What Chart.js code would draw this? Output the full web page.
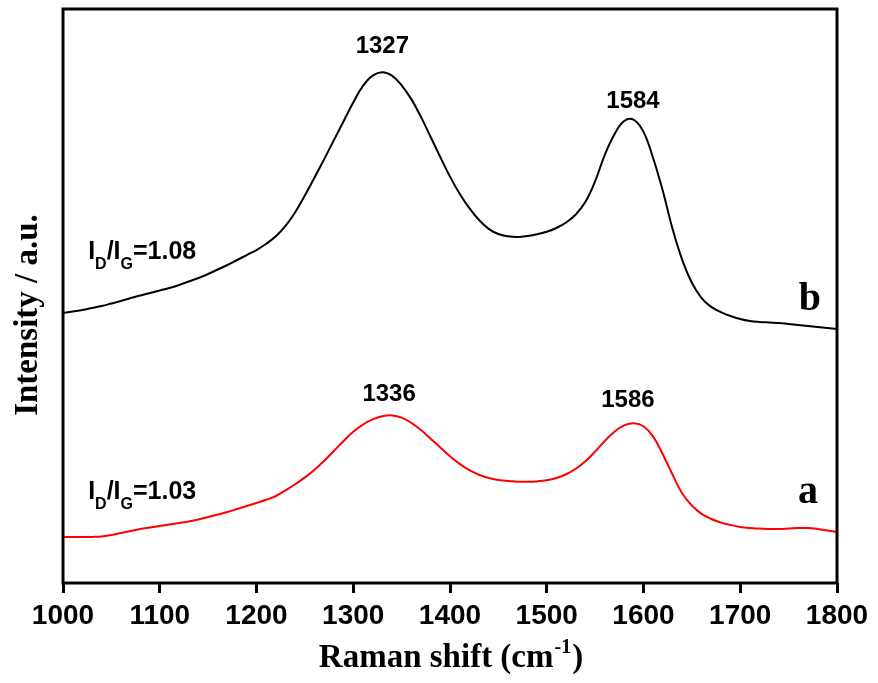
<!DOCTYPE html>
<html>
<head>
<meta charset="utf-8">
<script src="https://cdn.jsdelivr.net/npm/chart.js@4.4.1/dist/chart.umd.min.js"></script>
<style>
  body { margin: 0; background: #fff; }
  #wrap { width: 878px; height: 683px; }
</style>
</head>
<body>
<div id="wrap"><canvas id="ramanChart"></canvas></div>
<script>
// ************* data *************

// Raman shift, cm-1 (both spectra sampled at the same shifts)
var shifts = [1000, 1010, 1020, 1030, 1040, 1050, 1060, 1070, 1080, 1090,
  1100, 1110, 1120, 1130, 1140, 1150, 1160, 1170, 1180, 1190,
  1200, 1210, 1220, 1230, 1240, 1250, 1260, 1270, 1280, 1290,
  1300, 1310, 1320, 1330, 1340, 1350, 1360, 1370, 1380, 1390,
  1400, 1410, 1420, 1430, 1440, 1450, 1460, 1470, 1480, 1490,
  1500, 1510, 1520, 1530, 1540, 1550, 1560, 1570, 1580, 1590,
  1600, 1610, 1620, 1630, 1640, 1650, 1660, 1670, 1680, 1690,
  1700, 1710, 1720, 1730, 1740, 1750, 1760, 1770, 1780, 1790, 1800];

// sample b (black, upper), a.u.
var intensityB = [47.04, 47.30, 47.56, 47.91, 48.26, 48.69, 49.13, 49.65, 50.09, 50.52,
  50.96, 51.39, 51.92, 52.53, 53.14, 53.83, 54.62, 55.40, 56.27, 57.14,
  58.01, 59.10, 60.40, 62.20, 64.60, 67.50, 70.65, 73.85, 77.15, 80.45,
  83.70, 86.60, 88.40, 89.00, 88.40, 86.70, 84.30, 81.20, 77.70, 74.20,
  70.80, 67.80, 65.30, 63.25, 61.70, 60.80, 60.40, 60.28, 60.45, 60.75,
  61.20, 61.85, 62.80, 64.20, 66.40, 70.00, 74.60, 78.20, 80.50, 80.70,
  78.60, 74.00, 68.30, 61.70, 56.30, 52.30, 49.65, 48.10, 47.20, 46.52,
  45.99, 45.64, 45.47, 45.38, 45.30, 45.12, 44.95, 44.77, 44.60, 44.43, 44.25];

// sample a (red, lower), a.u.
var intensityA = [8.01, 8.01, 8.01, 8.03, 8.10, 8.36, 8.71, 9.06, 9.41, 9.67,
  9.93, 10.19, 10.45, 10.71, 11.06, 11.50, 11.93, 12.37, 12.89, 13.41,
  13.94, 14.50, 15.16, 16.15, 17.20, 18.40, 19.75, 21.30, 23.00, 24.75,
  26.35, 27.60, 28.50, 29.05, 29.20, 28.80, 27.90, 26.65, 25.15, 23.60,
  22.10, 20.75, 19.65, 18.85, 18.30, 17.95, 17.75, 17.65, 17.62, 17.70,
  17.90, 18.30, 18.95, 19.90, 21.20, 22.90, 24.75, 26.35, 27.45, 27.85,
  27.30, 25.50, 22.40, 18.90, 15.60, 13.50, 12.05, 11.15, 10.54, 10.10,
  9.76, 9.58, 9.49, 9.41, 9.41, 9.49, 9.58, 9.58, 9.41, 9.15, 8.89];

// peak positions that get a label
var peaksB = [1327, 1584];
var peaksA = [1336, 1586];
var ratioB = "1.08";
var ratioA = "1.03";

var xTicks = [1000, 1100, 1200, 1300, 1400, 1500, 1600, 1700, 1800];

// ******************************************************

function toPoints(xs, ys) {
  var pts = [];
  for (var i = 0; i < xs.length; i++) {
    pts.push({ x: xs[i], y: ys[i] });
  }
  return pts;
}

// height of the curve at a given shift (for placing peak labels)
function curveAt(xs, ys, x) {
  for (var i = 1; i < xs.length; i++) {
    if (x <= xs[i]) {
      var t = (x - xs[i - 1]) / (xs[i] - xs[i - 1]);
      return ys[i - 1] + t * (ys[i] - ys[i - 1]);
    }
  }
  return ys[ys.length - 1];
}

var sansBold = "bold 24px 'Liberation Sans', Arial, sans-serif";
var serifBold = "bold 33px 'Liberation Serif', 'Times New Roman', serif";

// nudges (px) of each peak label from the top of its peak
var labelNudge = {
  1327: [3, -20], 1584: [5, -12],
  1336: [1, -15], 1586: [-2, -17]
};

// frame, peak labels, ratios, a/b and the axis titles
var decorations = {
  id: "decorations",
  afterDraw: function(chart) {
    var ctx = chart.ctx;
    var area = chart.chartArea;
    var xs = chart.scales.x;
    var ys = chart.scales.y;

    ctx.save();
    ctx.strokeStyle = "#000";
    ctx.lineWidth = 3;
    ctx.strokeRect(area.left, area.top, area.right - area.left, area.bottom - area.top);

    ctx.fillStyle = "#000";
    ctx.textAlign = "center";
    ctx.textBaseline = "alphabetic";
    ctx.font = sansBold;

    function peakLabel(p, series) {
      var px = xs.getPixelForValue(p);
      var py = ys.getPixelForValue(curveAt(shifts, series, p));
      var n = labelNudge[p];
      ctx.fillText(String(p), px + n[0], py + n[1]);
    }
    peaksB.forEach(function(p) { peakLabel(p, intensityB); });
    peaksA.forEach(function(p) { peakLabel(p, intensityA); });

    // I_D/I_G ratios
    function ratio(x, y, value) {
      var px = xs.getPixelForValue(x);
      var py = ys.getPixelForValue(y);
      ctx.textAlign = "left";
      var big = "bold 25px 'Liberation Sans', Arial, sans-serif";
      var small = "bold 16px 'Liberation Sans', Arial, sans-serif";
      var parts = [["I", big, 0], ["D", small, 10], ["/I", big, 0], ["G", small, 10], ["=" + value, big, 0]];
      parts.forEach(function(part) {
        ctx.font = part[1];
        ctx.fillText(part[0], px, py + part[2]);
        px += ctx.measureText(part[0]).width;
      });
    }
    ratio(1026, 56.5, ratioB);
    ratio(1026, 14.6, ratioA);

    ctx.textAlign = "center";
    ctx.font = "bold 40px 'Liberation Serif', 'Times New Roman', serif";
    ctx.fillText("b", xs.getPixelForValue(1772), ys.getPixelForValue(47.6));
    ctx.fillText("a", xs.getPixelForValue(1770), ys.getPixelForValue(13.9));

    // x title with superscript
    var main = "Raman shift (cm";
    var sup = "-1";
    var close = ")";
    ctx.font = serifBold;
    var w1 = ctx.measureText(main).width;
    var w3 = ctx.measureText(close).width;
    ctx.font = "bold 20px 'Liberation Serif', 'Times New Roman', serif";
    var w2 = ctx.measureText(sup).width;
    var startX = (area.left + area.right) / 2 - (w1 + w2 + w3) / 2;
    var base = 667;
    ctx.textAlign = "left";
    ctx.font = serifBold;
    ctx.fillText(main, startX, base);
    ctx.font = "bold 20px 'Liberation Serif', 'Times New Roman', serif";
    ctx.fillText(sup, startX + w1 + 1, base - 14);
    ctx.font = serifBold;
    ctx.fillText(close, startX + w1 + w2 + 2, base);

    // y title, a bit below the middle of the axis as in the original
    ctx.translate(37, 315);
    ctx.rotate(-Math.PI / 2);
    ctx.textAlign = "center";
    ctx.font = serifBold;
    ctx.fillText("Intensity / a.u.", 0, 0);
    ctx.restore();
  }
};

var ctx = document.getElementById("ramanChart").getContext("2d");
var ramanChart = new Chart(ctx, {
  type: "line",
  data: {
    datasets: [{
      label: "b",
      data: toPoints(shifts, intensityB),
      borderColor: "#000000",
      borderWidth: 2,
      pointRadius: 0,
      tension: 0.4,
      fill: false
    }, {
      label: "a",
      data: toPoints(shifts, intensityA),
      borderColor: "#ff0000",
      borderWidth: 2,
      pointRadius: 0,
      tension: 0.4,
      fill: false
    }]
  },
  options: {
    responsive: true,
    maintainAspectRatio: false,
    animation: false,
    layout: { padding: { top: 9, right: 41, left: 0, bottom: 0 } },
    plugins: {
      legend: { display: false },
      tooltip: { enabled: false }
    },
    scales: {
      x: {
        type: "linear",
        min: 1000,
        max: 1800,
        afterBuildTicks: function(scale) {
          scale.ticks = xTicks.map(function(v) { return { value: v }; });
        },
        afterFit: function(scale) { scale.height = 100; },
        border: { display: false },
        grid: {
          drawOnChartArea: false,
          drawTicks: true,
          tickLength: 10,
          tickWidth: 3,
          tickColor: "#000"
        },
        ticks: {
          color: "#000",
          padding: 6,
          maxRotation: 0,
          callback: function(value) { return String(value); },
          font: { family: "'Liberation Sans', Arial, sans-serif", size: 28, weight: "bold" }
        }
      },
      y: {
        min: 0,
        max: 100,
        afterFit: function(scale) { scale.width = 63; },
        border: { display: false },
        grid: { display: false },
        ticks: { display: false }
      }
    }
  },
  plugins: [decorations]
});
</script>
</body>
</html>
